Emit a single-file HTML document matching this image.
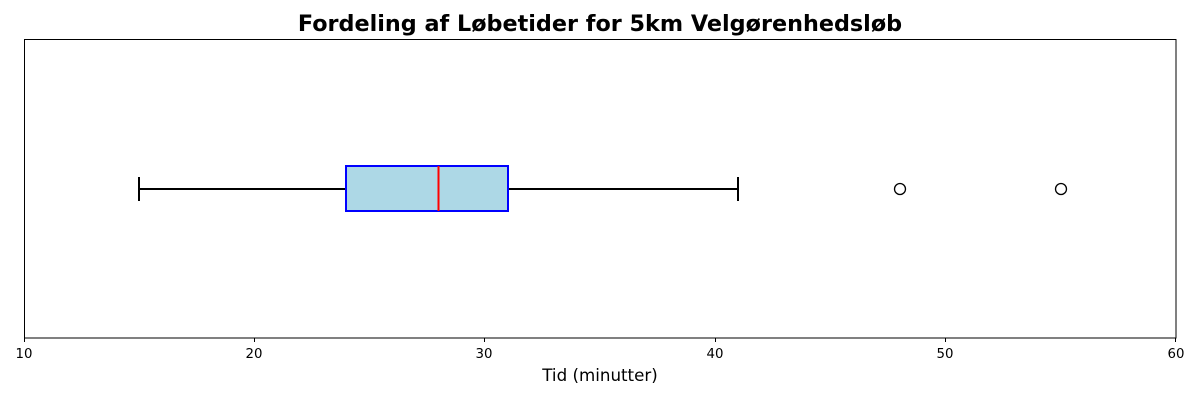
<!DOCTYPE html>
<html><head><meta charset="utf-8"><style>
html,body{margin:0;padding:0;background:#fff;}
svg{display:block;font-family:"DejaVu Sans","Liberation Sans",sans-serif;}
</style></head><body>
<svg width="1200" height="400" viewBox="0 0 1200 400" xmlns="http://www.w3.org/2000/svg">
<rect width="1200" height="400" fill="#fff"/>
<text x="600" y="31" text-anchor="middle" font-size="22.3" font-weight="bold" fill="#000">Fordeling af Løbetider for 5km Velgørenhedsløb</text>
<rect x="24.5" y="39.5" width="1151.5" height="298.5" fill="none" stroke="#000" stroke-width="1"/>
<g stroke="#000" stroke-width="1">
<line x1="24.5" y1="338" x2="24.5" y2="342"/>
<line x1="254.5" y1="338" x2="254.5" y2="342"/>
<line x1="484.5" y1="338" x2="484.5" y2="342"/>
<line x1="715.5" y1="338" x2="715.5" y2="342"/>
<line x1="945.5" y1="338" x2="945.5" y2="342"/>
<line x1="1175.5" y1="338" x2="1175.5" y2="342"/>
</g>
<g font-size="13.3" fill="#000" text-anchor="middle">
<text x="24" y="358">10</text>
<text x="254" y="358">20</text>
<text x="484" y="358">30</text>
<text x="715" y="358">40</text>
<text x="945" y="358">50</text>
<text x="1176" y="358">60</text>
</g>
<text x="600" y="381" text-anchor="middle" font-size="16.7" fill="#000">Tid (minutter)</text>
<g stroke="#000" stroke-width="2" fill="none">
<line x1="139" y1="189" x2="346" y2="189"/>
<line x1="508" y1="189" x2="738" y2="189"/>
<line x1="139" y1="177" x2="139" y2="201"/>
<line x1="738" y1="177" x2="738" y2="201"/>
</g>
<rect x="346" y="166" width="162" height="45" fill="#add8e6" stroke="#0000ff" stroke-width="2"/>
<line x1="438.5" y1="166" x2="438.5" y2="211" stroke="#ff0000" stroke-width="2"/>
<circle cx="900" cy="189" r="5.5" fill="none" stroke="#000" stroke-width="1.3"/>
<circle cx="1061" cy="189" r="5.5" fill="none" stroke="#000" stroke-width="1.3"/>
</svg>
</body></html>
